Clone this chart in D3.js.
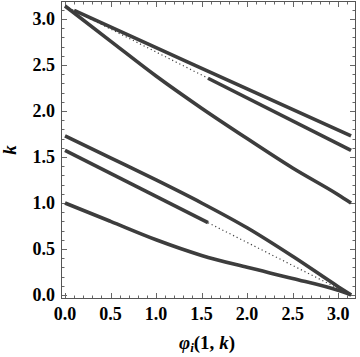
<!DOCTYPE html>
<html>
<head>
<meta charset="utf-8">
<script src="https://cdn.jsdelivr.net/npm/d3@7"></script>
<style>
  body { margin: 0; background: #fff; }
  svg text { font-family: "Liberation Serif", "Times New Roman", serif; font-weight: bold; fill: #000; }
</style>
</head>
<body>
<div id="chart"></div>
<script>
    // values
    var steepPhi = [0, 0.5, 1.0, 1.5, 2.0, 2.5, 3.0, 3.1416],
        steepK   = [3.1416, 2.76, 2.38, 2.03, 1.70, 1.38, 1.09, 1.0];

    var upperPhi = [0.1, 1.0, 2.0, 3.1416],
        upperK   = [3.095, 2.69, 2.24, 1.73];

    // k = pi - phi/2, dotted then solid
    var halfTopDotPhi = [0, 1.5708],
        halfTopDotK   = [3.1416, 2.3562],
        halfTopPhi    = [1.5708, 3.1416],
        halfTopK      = [2.3562, 1.5708];

    // k = (pi - phi)/2, solid then dotted
    var halfLowPhi    = [0, 1.5708],
        halfLowK      = [1.5708, 0.7854],
        halfLowDotPhi = [1.5708, 3.1416],
        halfLowDotK   = [0.7854, 0];

    var midPhi = [0, 0.5, 1.0, 1.5, 2.0, 2.5, 3.0, 3.1416],
        midK   = [1.73, 1.49, 1.25, 1.00, 0.73, 0.42, 0.09, 0.0];

    var lowPhi = [0, 0.5, 1.0, 1.5, 2.0, 2.5, 3.0, 3.1416],
        lowK   = [1.0, 0.80, 0.60, 0.43, 0.30, 0.18, 0.05, 0.0];

    var tickVals  = [0, 0.5, 1.0, 1.5, 2.0, 2.5, 3.0],
        tickText  = ["0.0", "0.5", "1.0", "1.5", "2.0", "2.5", "3.0"];

    // "top" is taken by window, so frame edges get their own names
    var w = 360, h = 357,
        frameL = 61, frameR = 356, frameT = 1, frameB = 299;

    var x = d3.scaleLinear().domain([-0.044, 3.196]).range([frameL, frameR]);
    var y = d3.scaleLinear().domain([-0.044, 3.196]).range([frameB, frameT]);

    var svg = d3.select("#chart").append("svg")
        .attr("width", w)
        .attr("height", h);

    // minor ticks every 0.1
    var minor = d3.range(0, 32).map(function(i){ return i / 10; });

    var ticks = svg.append("g").attr("stroke", "#666").attr("stroke-width", 1);
    minor.forEach(function(v){
        var major = Math.abs(v * 2 - Math.round(v * 2)) < 1e-6;
        var len = major ? 6 : 3.5;
        var px = Math.round(x(v)) + 0.5, py = Math.round(y(v)) + 0.5;
        ticks.append("line").attr("x1", px).attr("x2", px).attr("y1", frameB).attr("y2", frameB - len);
        ticks.append("line").attr("x1", px).attr("x2", px).attr("y1", frameT).attr("y2", frameT + len);
        ticks.append("line").attr("y1", py).attr("y2", py).attr("x1", frameL).attr("x2", frameL + len);
        ticks.append("line").attr("y1", py).attr("y2", py).attr("x1", frameR).attr("x2", frameR - len);
    });

    // frame
    svg.append("rect")
        .attr("x", frameL + 0.5).attr("y", frameT + 0.5)
        .attr("width", frameR - frameL - 1).attr("height", frameB - frameT - 1)
        .attr("fill", "none").attr("stroke", "#555").attr("stroke-width", 1);

    // tick labels
    svg.selectAll("text.xt").data(tickVals).enter().append("text")
        .attr("class", "xt")
        .attr("x", function(d){ return x(d); })
        .attr("y", 320)
        .attr("text-anchor", "middle")
        .attr("font-size", 18)
        .text(function(d, i){ return tickText[i]; });

    svg.selectAll("text.yt").data(tickVals).enter().append("text")
        .attr("class", "yt")
        .attr("x", 55)
        .attr("y", function(d){ return y(d) + 6; })
        .attr("text-anchor", "end")
        .attr("font-size", 18)
        .text(function(d, i){ return tickText[i]; });

    // axis labels
    var xl = svg.append("text")
        .attr("x", 207).attr("y", 349)
        .attr("text-anchor", "middle")
        .attr("font-size", 19);
    xl.append("tspan").attr("font-style", "italic").text("φ");
    xl.append("tspan").attr("font-style", "italic").attr("font-size", 13).attr("dy", 3).text("i");
    xl.append("tspan").attr("dy", -3).text("(1, ");
    xl.append("tspan").attr("font-style", "italic").text("k");
    xl.append("tspan").text(")");

    svg.append("text")
        .attr("transform", "translate(16,150) rotate(-90)")
        .attr("text-anchor", "middle")
        .attr("font-size", 19)
        .attr("font-style", "italic")
        .text("k");

    // curves
    function pts(px, ky){
        return px.map(function(p, i){ return [p, ky[i]]; });
    }

    var line = d3.line()
        .x(function(d){ return x(d[0]); })
        .y(function(d){ return y(d[1]); })
        .curve(d3.curveMonotoneX);

    var plot = svg.append("g");

    var dotted = [pts(halfTopDotPhi, halfTopDotK), pts(halfLowDotPhi, halfLowDotK)];
    dotted.forEach(function(d){
        plot.append("path").attr("d", line(d))
            .attr("fill", "none").attr("stroke", "#444")
            .attr("stroke-width", 1.2).attr("stroke-dasharray", "1.2,2.8");
    });

    var solid = [
        pts(steepPhi, steepK),
        pts(upperPhi, upperK),
        pts(halfTopPhi, halfTopK),
        pts(halfLowPhi, halfLowK),
        pts(midPhi, midK),
        pts(lowPhi, lowK)
    ];
    solid.forEach(function(d){
        plot.append("path").attr("d", line(d))
            .attr("fill", "none").attr("stroke", "#3d3d3d")
            .attr("stroke-width", 3.6).attr("stroke-linecap", "butt");
    });
</script>
</body>
</html>
